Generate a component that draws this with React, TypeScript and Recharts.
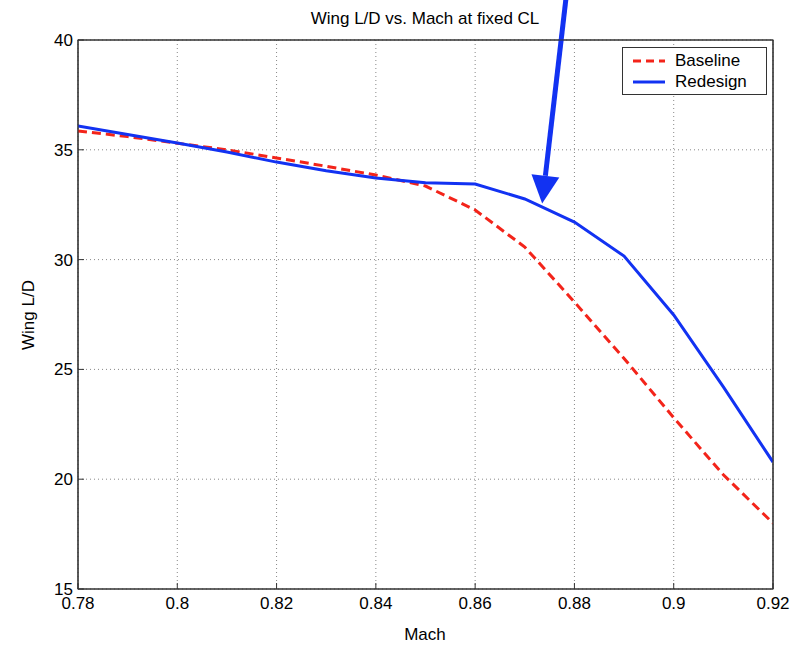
import { LineChart, Line, XAxis, YAxis, CartesianGrid, Legend, ReferenceLine, ReferenceArea } from 'recharts';

const mach = [0.78, 0.79, 0.8, 0.81, 0.82, 0.83, 0.84, 0.85, 0.86, 0.87, 0.88, 0.89, 0.9, 0.91, 0.92];
const baseline = [35.86, 35.6, 35.3, 35.0, 34.63, 34.25, 33.85, 33.35, 32.26, 30.57, 28.07, 25.5, 22.8, 20.2, 18.0];
const redesign = [36.08, 35.7, 35.31, 34.9, 34.44, 34.05, 33.72, 33.5, 33.44, 32.76, 31.71, 30.16, 27.48, 24.2, 20.78];

const xTicks = [0.78, 0.8, 0.82, 0.84, 0.86, 0.88, 0.9, 0.92];
const yTicks = [15, 20, 25, 30, 35, 40];

// annotation arrow, in data units (tail starts above the plot)
const arrowTail = { x: 0.8783, y: 41.9 };
const arrowTip = { x: 0.8735, y: 32.55 };

const data = mach.map((m, i) => ({ mach: m, baseline: baseline[i], redesign: redesign[i] }));

const RED = '#f3241a';
const BLUE = '#1232f2';
const FONT = '"Liberation Sans", Arial, sans-serif';

function ArrowShape(props: any) {
  const { x1, y1, x2, y2 } = props;
  const dx = x2 - x1;
  const dy = y2 - y1;
  const len = Math.sqrt(dx * dx + dy * dy);
  const ux = dx / len;
  const uy = dy / len;
  const headLen = 28;
  const halfW = 14;
  const bx = x2 - ux * headLen;
  const by = y2 - uy * headLen;
  const px = -uy;
  const py = ux;
  return (
    <g>
      <line x1={x1} y1={y1} x2={bx} y2={by} stroke={BLUE} strokeWidth={5} />
      <polygon
        points={`${x2},${y2} ${bx + px * halfW},${by + py * halfW} ${bx - px * halfW},${by - py * halfW}`}
        fill={BLUE}
      />
    </g>
  );
}

function LegendBox() {
  const row = (label: string, color: string, dash?: string) => (
    <div style={{ display: 'flex', alignItems: 'center', height: 21 }}>
      <svg width={36} height={10} style={{ marginRight: 8 }}>
        <line x1={2} y1={5} x2={34} y2={5} stroke={color} strokeWidth={3} strokeDasharray={dash} />
      </svg>
      <span>{label}</span>
    </div>
  );
  return (
    <div
      style={{
        border: '1px solid #333',
        background: '#fff',
        padding: '2px 6px 2px 8px',
        fontSize: 17,
        fontFamily: FONT,
        color: '#000',
        width: 129,
      }}
    >
      {row('Baseline', RED, '8 5')}
      {row('Redesign', BLUE)}
    </div>
  );
}

export default function App() {
  return (
    <div style={{ position: 'absolute', left: 0, top: 0, width: 795, height: 645, background: '#fff' }}>
      <LineChart
        width={795}
        height={645}
        data={data}
        margin={{ top: 39, right: 21, bottom: 26, left: 28 }}
        style={{ fontFamily: FONT }}
      >
        <CartesianGrid stroke="#888" strokeDasharray="1 3" />
        <XAxis
          dataKey="mach"
          type="number"
          domain={[0.78, 0.92]}
          ticks={xTicks}
          tickFormatter={(v: number) => String(v)}
          height={30}
          stroke="#333"
          tickSize={-6}
          tickMargin={14}
          tick={{ fill: '#000', fontSize: 17 }}
          allowDataOverflow
        />
        <XAxis
          xAxisId="top"
          orientation="top"
          dataKey="mach"
          type="number"
          domain={[0.78, 0.92]}
          ticks={xTicks}
          height={1}
          stroke="#333"
          tickSize={-6}
          tick={false}
          allowDataOverflow
        />
        <YAxis
          domain={[15, 40]}
          ticks={yTicks}
          width={50}
          stroke="#333"
          tickSize={-6}
          tickMargin={11}
          tick={{ fill: '#000', fontSize: 17 }}
          allowDataOverflow
        />
        <YAxis
          yAxisId="right"
          orientation="right"
          domain={[15, 40]}
          ticks={yTicks}
          width={1}
          stroke="#333"
          tickSize={-6}
          tick={false}
          allowDataOverflow
        />
        <ReferenceArea
          x1={0.78}
          x2={0.92}
          y1={15}
          y2={40}
          fill="none"
          fillOpacity={0}
          stroke="#333"
          strokeWidth={1.2}
          ifOverflow="visible"
        />
        <Legend
          layout="vertical"
          align="center"
          verticalAlign="middle"
          wrapperStyle={{ left: 622, top: 47, width: 'auto' }}
          content={() => <LegendBox />}
        />
        <Line
          dataKey="baseline"
          name="Baseline"
          type="linear"
          stroke={RED}
          strokeWidth={3}
          strokeDasharray="9 5"
          dot={false}
          isAnimationActive={false}
        />
        <Line
          dataKey="redesign"
          name="Redesign"
          type="linear"
          stroke={BLUE}
          strokeWidth={3}
          dot={false}
          isAnimationActive={false}
        />
        <ReferenceLine
          segment={[arrowTail, arrowTip]}
          ifOverflow="visible"
          shape={ArrowShape}
        />
        <text x={425} y={24} textAnchor="middle" fontSize={17} fill="#000" fontFamily={FONT}>
          Wing L/D vs. Mach at fixed CL
        </text>
        <text x={425} y={640} textAnchor="middle" fontSize={17} fill="#000" fontFamily={FONT}>
          Mach
        </text>
        <text
          x={34}
          y={315}
          textAnchor="middle"
          fontSize={17}
          fill="#000"
          fontFamily={FONT}
          transform="rotate(-90, 34, 315)"
        >
          Wing L/D
        </text>
      </LineChart>
    </div>
  );
}
